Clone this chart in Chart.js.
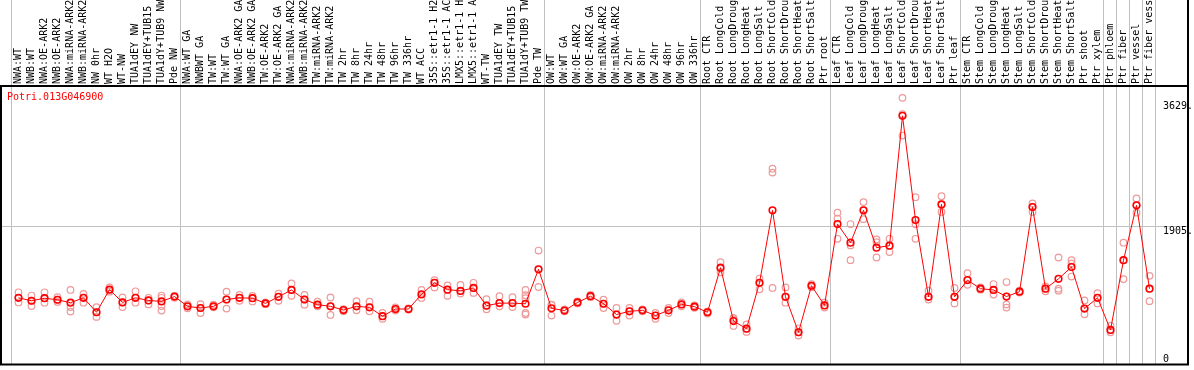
<!DOCTYPE html>
<html>
<head>
<meta charset="utf-8">
<script src="https://cdn.jsdelivr.net/npm/chart.js@4/dist/chart.umd.min.js"></script>
<style>
  html, body { margin: 0; padding: 0; background: #fff; }
  canvas { display: block; }
</style>
</head>
<body>
<canvas id="chart" width="1194" height="370"></canvas>
<script>
// sample names (top, rotated)
const categories = [
  'NWA:WT', 'NWB:WT', 'NWA:OE-ARK2', 'NWB:OE-ARK2', 'NWA:miRNA-ARK2', 'NWB:miRNA-ARK2', 'NW 0hr',
  'WT H2O', 'WT-NW', 'TUA1dEY NW', 'TUA1dEY+TUB15 NW', 'TUA1dY+TUB9 NW', 'Pde NW',
  'NWA:WT GA', 'NWBWT GA', 'TW:WT', 'TW:WT GA', 'NWA:OE-ARK2 GA', 'NWB:OE-ARK2 GA', 'TW:OE-ARK2',
  'TW:OE-ARK2 GA', 'NWA:miRNA-ARK2', 'NWB:miRNA-ARK2', 'TW:miRNA-ARK2', 'TW:miRNA-ARK2', 'TW 2hr',
  'TW 8hr', 'TW 24hr', 'TW 48hr', 'TW 96hr', 'TW 336hr', 'WT ACC', '35S::etr1-1 H2O', '35S::etr1-1 ACC',
  'LMX5::etr1-1 H2O', 'LMX5::etr1-1 ACC', 'WT-TW', 'TUA1dEY TW', 'TUA1dEY+TUB15 TW', 'TUA1dY+TUB9 TW', 'Pde TW',
  'OW:WT', 'OW:WT GA', 'OW:OE-ARK2', 'OW:OE-ARK2 GA', 'OW:miRNA-ARK2', 'OW:miRNA-ARK2', 'OW 2hr',
  'OW 8hr', 'OW 24hr', 'OW 48hr', 'OW 96hr', 'OW 336hr',
  'Root CTR', 'Root LongCold', 'Root LongDrought', 'Root LongHeat', 'Root LongSalt', 'Root ShortCold',
  'Root ShortDrought', 'Root ShortHeat', 'Root ShortSalt', 'Ptr root',
  'Leaf CTR', 'Leaf LongCold', 'Leaf LongDrought', 'Leaf LongHeat', 'Leaf LongSalt', 'Leaf ShortCold',
  'Leaf ShortDrought', 'Leaf ShortHeat', 'Leaf ShortSalt', 'Ptr leaf',
  'Stem CTR', 'Stem LongCold', 'Stem LongDrought', 'Stem LongHeat', 'Stem LongSalt', 'Stem ShortCold',
  'Stem ShortDrought', 'Stem ShortHeat', 'Stem ShortSalt', 'Ptr shoot', 'Ptr xylem',
  'Ptr phloem', 'Ptr fiber', 'Ptr vessel', 'Ptr fiber vessel'
];

// mean expression per sample
const means = [
  841, 797, 835, 812, 768, 841, 626, 963, 772, 841, 802, 787, 860,
  714, 689, 714, 816, 841, 835, 758, 856, 958, 816, 739, 714, 659, 714, 699, 567, 674, 674, 894,
  1065, 963, 944, 988, 724, 762, 762, 753, 1266,
  684, 651, 772, 865, 753, 592, 640, 655, 577, 655, 743, 709,
  626, 1290, 494, 381, 1065, 2145, 856, 328, 1021, 728,
  1940, 1662, 2145, 1588, 1618, 3552, 1999, 856, 2233, 856,
  1105, 977, 958, 860, 933, 2194, 977, 1124, 1300, 680, 841, 362, 1402, 2219, 977
];

// replicate values per sample
const replicates = [
  [923, 841, 772], [875, 797, 718], [923, 835, 768], [850, 812, 780], [958, 703, 636],
  [900, 841, 768], [703, 626, 557], [996, 963, 933], [846, 772, 703], [938, 841, 768],
  [841, 802, 743], [875, 841, 718, 651], [870, 860, 841],
  [743, 714, 684], [747, 689, 615], [739, 714, 699], [933, 816, 680], [885, 841, 797],
  [870, 835, 787], [772, 758, 747], [904, 856, 797], [1055, 958, 870], [885, 816, 739],
  [783, 739, 714], [846, 714, 586], [674, 659, 640], [791, 714, 655], [783, 699, 640],
  [615, 567, 528], [699, 674, 651], [684, 674, 665], [958, 885, 839], [1105, 1065, 996],
  [1026, 963, 870], [1032, 944, 904], [1065, 988, 914], [821, 724, 670], [865, 762, 714],
  [850, 762, 703], [958, 879, 835, 615, 592], [1545, 1266, 1002],
  [739, 736, 577], [669, 651, 640], [787, 772, 758], [885, 865, 850], [812, 753, 689],
  [689, 592, 498], [689, 640, 577], [670, 655, 640], [615, 577, 528], [689, 655, 615],
  [772, 743, 714], [728, 709, 692],
  [640, 626, 607], [1373, 1275, 1222], [542, 518, 422], [445, 381, 333], [1128, 1065, 967],
  [2765, 2707, 988], [996, 856, 768], [387, 328, 278], [1043, 1021, 999], [768, 728, 695],
  [2110, 2022, 1720], [1940, 1622, 1402], [2267, 2145, 2013], [1710, 1671, 1442], [1720, 1618, 1524],
  [3820, 3577, 3259], [2340, 1937, 1720], [948, 856, 816], [2355, 2233, 2120], [988, 856, 758],
  [1207, 1105, 1036], [996, 977, 963], [1046, 958, 889], [1076, 743, 695], [948, 933, 919],
  [2248, 2194, 2120], [1011, 977, 938], [1442, 977, 948], [1402, 1354, 1158], [802, 680, 596],
  [909, 841, 758], [425, 362, 328], [1662, 1402, 1120], [2321, 2219, 2110], [1168, 977, 791]
];

const yTickValues = [0, 1905, 3629];
const yTickLabels = ['0', '1905.', '3629.'];
const gridValue = 1905;
// index where a new sample group starts
const groupBreaks = [0, 13, 41, 53, 63, 73, 84, 85, 86, 87, 88];
const geneName = 'Potri.013G046900';

const MONO = '"DejaVu Sans Mono", "Liberation Mono", monospace';

// one dataset per replicate slot, nulls where a sample has fewer reps
const maxReps = Math.max(...replicates.map(r => r.length));
const repSets = [];
for (let k = 0; k < maxReps; k++) {
  repSets.push({
    data: replicates.map(r => (r[k] === undefined ? null : r[k])),
    showLine: false,
    pointRadius: 3.3,
    pointBorderWidth: 1.2,
    pointBorderColor: '#ee9a9a',
    pointBackgroundColor: 'rgba(0,0,0,0)',
    borderColor: '#ee9a9a'
  });
}

const decor = {
  id: 'decor',
  beforeDatasetsDraw(chart) {
    const { ctx, chartArea, scales } = chart;
    ctx.save();
    ctx.strokeStyle = '#c0c0c0';
    ctx.lineWidth = 1;
    const gy = Math.round(scales.y.getPixelForValue(gridValue)) + 0.5;
    ctx.beginPath();
    ctx.moveTo(1, gy);
    ctx.lineTo(1188, gy);
    ctx.stroke();
    groupBreaks.forEach(b => {
      const px = Math.round(scales.x.getPixelForValue(b - 0.5)) - 0.5;
      ctx.beginPath();
      ctx.moveTo(px, 0);
      ctx.lineTo(px, chartArea.bottom);
      ctx.stroke();
    });
    ctx.restore();
  },
  afterDraw(chart) {
    const { ctx, chartArea, scales } = chart;
    ctx.save();
    // black frame
    ctx.strokeStyle = '#000';
    ctx.lineWidth = 2;
    ctx.beginPath();
    ctx.moveTo(1, chartArea.top - 1);
    ctx.lineTo(1, chartArea.bottom);
    ctx.lineTo(1188, chartArea.bottom);
    ctx.lineTo(1188, 0);
    ctx.moveTo(0, chartArea.top - 1);
    ctx.lineTo(1188, chartArea.top - 1);
    ctx.stroke();

    ctx.font = '10px ' + MONO;
    ctx.fillStyle = '#ff0000';
    ctx.textAlign = 'left';
    ctx.textBaseline = 'middle';
    ctx.fillText(geneName, 7, 97);

    // value labels on the right, inside the frame
    ctx.fillStyle = '#000';
    yTickValues.forEach((v, i) => {
      const py = scales.y.getPixelForValue(v);
      const top = i === yTickValues.length - 1;
      ctx.textBaseline = top ? 'bottom' : 'top';
      ctx.fillText(yTickLabels[i], 1163, top ? py + 1 : py);
    });
    ctx.restore();
  }
};

const ctx = document.getElementById('chart').getContext('2d');
const chart = new Chart(ctx, {
  type: 'line',
  data: {
    labels: categories,
    datasets: [{
      data: means,
      borderColor: '#ff0000',
      borderWidth: 1,
      tension: 0,
      pointRadius: 3.3,
      pointBorderWidth: 1.6,
      pointBorderColor: '#ff0000',
      pointBackgroundColor: 'rgba(0,0,0,0)'
    }].concat(repSets)
  },
  options: {
    responsive: false,
    animation: false,
    devicePixelRatio: 1,
    layout: { padding: { left: 12, right: 38, top: 0, bottom: 1 } },
    plugins: { legend: { display: false }, tooltip: { enabled: false } },
    scales: {
      x: {
        position: 'top',
        offset: true,
        grid: { display: false, drawTicks: false },
        border: { display: false },
        ticks: {
          autoSkip: false,
          minRotation: 90,
          maxRotation: 90,
          padding: 3,
          labelOffset: 12,
          color: '#000',
          font: { family: MONO, size: 10 }
        },
        afterFit(scale) { scale.height = 87; }
      },
      y: {
        display: false,
        min: -151,
        max: 3982
      }
    }
  },
  plugins: [decor]
});
</script>
</body>
</html>
